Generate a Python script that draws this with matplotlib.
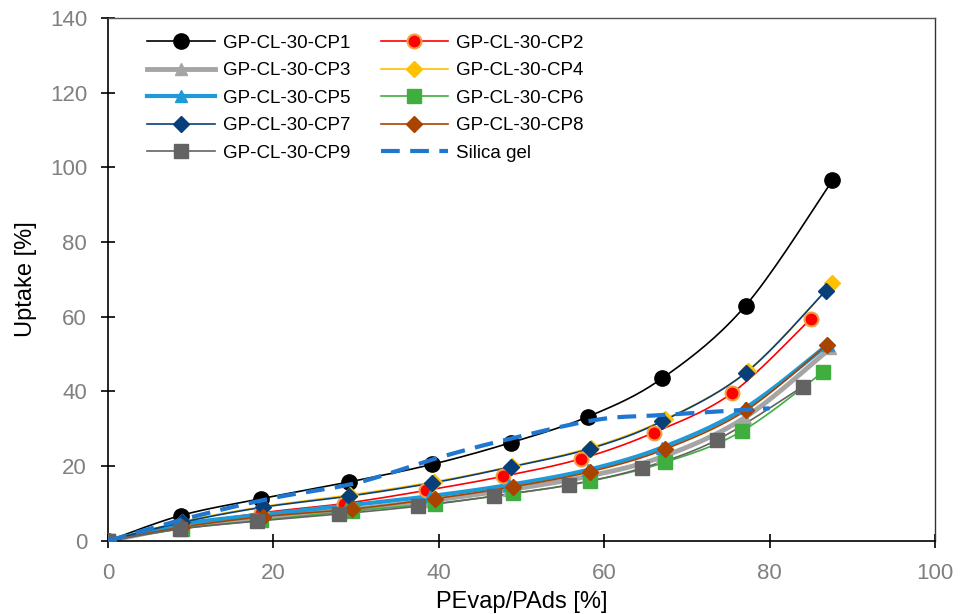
import matplotlib.pyplot as plt
import numpy as np

plt.rcParams['font.family'] = ['Liberation Sans', 'DejaVu Sans']

# data
x_cp1 = [0, 8.8, 18.5, 29.2, 39.2, 48.7, 58.1, 67.0, 77.1, 87.6]
y_cp1 = [0, 6.8, 11.3, 15.8, 20.5, 26.3, 33.3, 43.5, 63.0, 96.5]
x_cp2 = [0, 9.0, 18.5, 28.5, 38.4, 47.8, 57.2, 66.0, 75.4, 85.0]
y_cp2 = [0, 4.2, 7.5, 10.0, 13.5, 17.3, 22.0, 29.0, 39.5, 59.5]
x_cp3 = [0, 9.0, 18.5, 29.0, 39.0, 48.5, 58.0, 67.0, 77.0, 87.3]
y_cp3 = [0, 3.8, 6.3, 8.3, 10.8, 13.7, 17.3, 22.5, 33.0, 51.5]
x_cp4 = [0, 9.0, 18.8, 29.3, 39.4, 48.9, 58.4, 67.3, 77.4, 87.6]
y_cp4 = [0, 5.2, 9.2, 12.3, 15.8, 20.0, 25.0, 32.5, 45.5, 69.0]
x_cp5 = [0, 9.0, 18.5, 29.0, 39.0, 48.5, 58.0, 67.0, 77.0, 87.0]
y_cp5 = [0, 4.5, 7.0, 9.5, 12.0, 15.0, 19.0, 25.0, 35.5, 52.5]
x_cp6 = [0, 9.0, 18.5, 29.5, 39.5, 49.0, 58.3, 67.3, 76.6, 86.5]
y_cp6 = [0, 3.3, 5.5, 8.0, 10.0, 12.7, 16.0, 21.0, 29.3, 45.3]
x_cp7 = [0, 9.0, 18.7, 29.2, 39.2, 48.7, 58.3, 67.0, 77.1, 86.8]
y_cp7 = [0, 5.0, 9.0, 12.0, 15.5, 19.8, 24.7, 32.0, 45.0, 67.0]
x_cp8 = [0, 9.0, 18.8, 29.5, 39.5, 49.0, 58.3, 67.3, 77.2, 86.9]
y_cp8 = [0, 3.7, 6.5, 8.5, 11.3, 14.5, 18.5, 24.5, 35.0, 52.5]
x_cp9 = [0, 8.7, 18.0, 28.0, 37.5, 46.7, 55.8, 64.6, 73.6, 84.0]
y_cp9 = [0, 3.2, 5.3, 7.2, 9.3, 12.0, 15.0, 19.5, 27.0, 41.3]
x_silica = [0, 10, 20, 30, 40, 48, 59, 67, 80]
y_silica = [0, 6.3, 11.5, 15.5, 22.3, 27.0, 32.4, 33.7, 35.5]


def smooth(x, y, n=20):
    # Catmull-Rom curve through the points, like Excel's smoothed lines
    p = np.column_stack([x, y]).astype(float)
    p = np.vstack([p[0], p, p[-1]])
    out = []
    t = np.linspace(0, 1, n)[:, None]
    for i in range(1, len(p) - 2):
        p0, p1, p2, p3 = p[i - 1], p[i], p[i + 1], p[i + 2]
        seg = 0.5 * ((2 * p1) + (-p0 + p2) * t + (2 * p0 - 5 * p1 + 4 * p2 - p3) * t ** 2
                     + (-p0 + 3 * p1 - 3 * p2 + p3) * t ** 3)
        out.append(seg)
    s = np.vstack(out)
    return s[:, 0], s[:, 1]


series = [
    ('GP-CL-30-CP1', x_cp1, y_cp1, dict(color='black', lw=1.2, marker='o', ms=11, mfc='black', mec='black')),
    ('GP-CL-30-CP2', x_cp2, y_cp2, dict(color='#ff0000', lw=1.2, marker='o', ms=10, mfc='#ff0000', mec='#f4a040', mew=1.5)),
    ('GP-CL-30-CP3', x_cp3, y_cp3, dict(color='#a5a5a5', lw=3.5, marker='^', ms=9, mfc='#a5a5a5', mec='#a5a5a5')),
    ('GP-CL-30-CP4', x_cp4, y_cp4, dict(color='#ffc000', lw=1.2, marker='D', ms=8, mfc='#ffc000', mec='#ffc000')),
    ('GP-CL-30-CP5', x_cp5, y_cp5, dict(color='#1f9ad8', lw=3.0, marker='^', ms=9, mfc='#1f9ad8', mec='#1f9ad8')),
    ('GP-CL-30-CP6', x_cp6, y_cp6, dict(color='#3fae3f', lw=1.2, marker='s', ms=10, mfc='#3fae3f', mec='#3fae3f')),
    ('GP-CL-30-CP7', x_cp7, y_cp7, dict(color='#073f7a', lw=1.2, marker='D', ms=8, mfc='#073f7a', mec='#073f7a')),
    ('GP-CL-30-CP8', x_cp8, y_cp8, dict(color='#a84400', lw=1.2, marker='D', ms=8, mfc='#a84400', mec='#a84400')),
    ('GP-CL-30-CP9', x_cp9, y_cp9, dict(color='#636363', lw=1.2, marker='s', ms=10, mfc='#636363', mec='#636363')),
]

fig = plt.figure(figsize=(9.63, 6.14), dpi=100)
ax = fig.add_axes([0.112, 0.119, 0.859, 0.852])

handles = []
for name, x, y, st in series:
    sx, sy = smooth(x, y)
    ax.plot(sx, sy, color=st['color'], lw=st['lw'], zorder=2)
    ax.plot(x, y, ls='none', marker=st['marker'], ms=st['ms'], mfc=st['mfc'],
            mec=st['mec'], mew=st.get('mew', 1), zorder=3)
    h, = ax.plot([], [], label=name, **st)
    handles.append(h)

dash = (0, (4.5, 2.5))
sx, sy = smooth(x_silica, y_silica)
ax.plot(sx, sy, color='#1f77d0', lw=3, ls=dash, zorder=4)
h, = ax.plot([], [], color='#1f77d0', lw=3, ls=dash, label='Silica gel')
handles.append(h)

ax.set_xlim(0, 100)
ax.set_ylim(0, 140)
ax.set_xticks(np.arange(0, 101, 20))
ax.set_yticks(np.arange(0, 141, 20))
for s in ['left', 'bottom']:
    ax.spines[s].set_linewidth(1.2)
ax.spines['top'].set_color('#555555')
ax.spines['top'].set_linewidth(1.0)
ax.spines['right'].set_color('#333333')
ax.spines['right'].set_linewidth(1.0)
ax.tick_params(direction='inout', length=10, width=1.2, labelsize=16,
               labelcolor='#808080')
ax.tick_params(axis='x', pad=11)
ax.tick_params(axis='y', pad=10)
ax.set_xlabel('PEvap/PAds [%]', fontsize=17, labelpad=5)
ax.set_ylabel('Uptake [%]', fontsize=17, labelpad=9)

# legend filled row by row, like the original
order = [0, 2, 4, 6, 8, 1, 3, 5, 7, 9]
ax.legend(handles=[handles[i] for i in order], ncol=2, frameon=False, fontsize=13.5,
          loc='upper left', bbox_to_anchor=(0.027, 1.0), handlelength=3.6,
          columnspacing=1.6, labelspacing=0.55, handletextpad=0.45)

fig.savefig('out.png', dpi=100)
